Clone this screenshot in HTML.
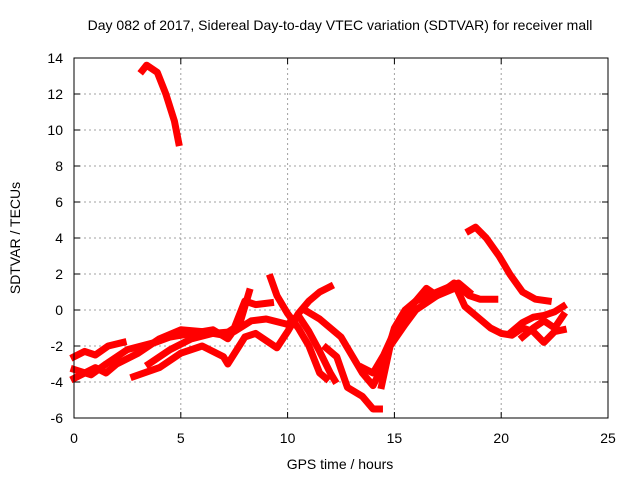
<!DOCTYPE html>
<html><head><meta charset="utf-8"><style>
body{margin:0;background:#fff}
svg text{font-family:"Liberation Sans",sans-serif;font-size:14px;fill:#000}
</style></head><body>
<svg id="c" width="640" height="480">
<text x="340" y="30" text-anchor="middle">Day 082 of 2017, Sidereal Day-to-day VTEC variation (SDTVAR) for receiver mall</text>
<text x="340" y="469" text-anchor="middle">GPS time / hours</text>
<text transform="translate(20,238) rotate(-90)" text-anchor="middle">SDTVAR / TECUs</text>
<g id="grid"></g><g id="marks"></g>
<rect x="74" y="58" width="534" height="360" fill="none" stroke="#000" stroke-width="1"/>
</svg>
<script>
const xTicks=[0,5,10,15,20,25];
const yTicks=[-6,-4,-2,0,2,4,6,8,10,12,14];
const t1=[3.2,3.4,3.9,4.3,4.7,4.9], v1=[13.3,13.6,13.2,12,10.5,9.3];
const t2=[18.5,18.8,19.3,19.9,20.4,21.0,21.6,22.2], v2=[4.4,4.6,4.0,3.0,2.0,1.0,0.6,0.5];
const t3=[0,0.5,1.0,1.6,2.3], v3=[-2.6,-2.3,-2.5,-2.0,-1.8];
const t4=[0,1,1.5,2,3,4,5,6,7,7.5,8,8.5,9.2], v4=[-3.8,-3.2,-3.5,-3.0,-2.4,-1.6,-1.1,-1.2,-1.4,-1.0,0.5,0.3,0.4];
const t5=[0,0.8,1.5,2.5,3.8,4.5,5.5,6.5,7.2,7.8,8.2], v5=[-3.3,-3.6,-3.0,-2.2,-1.8,-1.5,-1.3,-1.1,-1.6,-0.6,1.0];
const t6=[2.8,4,5,6,7,7.2,8,8.5,9.5,10,10.5,11,11.5,12], v6=[-3.7,-3.2,-2.4,-2.0,-2.6,-3.0,-1.5,-1.3,-2.1,-1.2,-0.2,0.5,1.0,1.3];
const t7=[3.5,4.5,5.5,6.5,7.5,8.3,9,10,10.5], v7=[-3.0,-2.2,-1.6,-1.3,-1.2,-0.6,-0.5,-0.8,-0.4];
const t8=[9.2,9.5,10,10.5,11,11.5,11.8], v8=[1.8,0.8,-0.2,-1.0,-2.0,-3.5,-3.8];
const t9=[10,10.5,11,11.5,12,12.2], v9=[-0.8,-0.3,-1.2,-2.3,-3.5,-3.9];
const t10=[10.8,11.5,12.5,13,13.5,14,14.5,15,15.5,16,17,18,18.5], v10=[0,-0.5,-1.5,-2.5,-3.5,-4.2,-3.0,-1.0,0,0.5,1.0,1.5,1.0];
const t11=[11.8,12.3,12.8,13.5,14,14.3], v11=[-2.1,-2.6,-4.3,-4.8,-5.5,-5.5];
const t12=[13.5,14,14.5,15,15.5,16,16.5,17,18,18.5,19,19.7], v12=[-3.2,-3.5,-2.5,-1.2,-0.2,0.5,1.2,0.8,1.3,0.8,0.6,0.6];
const t13=[14.4,14.8,15.5,16,17,17.8,18.3,19,19.5,20,20.5,21,21.5,22,22.5,22.9], v13=[-4.2,-2,-0.8,0,0.8,1.5,0.2,-0.5,-1.0,-1.3,-1.4,-1.0,-1.2,-1.8,-1.2,-1.1];
const t14=[20.5,21,21.5,22,22.5,22.9], v14=[-1.2,-0.7,-0.4,-0.3,-0.1,0.2];
const t15=[21,21.5,22,22.5,22.9], v15=[-1.5,-1.0,-0.6,-1.0,-0.3];
const series=[[t1,v1],[t2,v2],[t3,v3],[t4,v4],[t5,v5],[t6,v6],[t7,v7],[t8,v8],[t9,v9],[t10,v10],[t11,v11],[t12,v12],[t13,v13],[t14,v14],[t15,v15]];
const NS="http://www.w3.org/2000/svg";
function xs(h){return 74+h*534/25;}
function ys(v){return 418-(v+6)*18;}
const grid=document.getElementById('grid'),marks=document.getElementById('marks');
function mk(t,a,p){const e=document.createElementNS(NS,t);for(const k in a)e.setAttribute(k,a[k]);p.appendChild(e);return e;}
xTicks.forEach(t=>{
 const x=xs(t);
 if(t>0&&t<25){const l=mk('line',{x1:x,y1:58,x2:x,y2:418,stroke:'#a0a0a0','stroke-dasharray':'2,3'},grid);
 
 }
 mk('line',{x1:x,y1:418,x2:x,y2:412,stroke:'#000'},grid);
 mk('line',{x1:x,y1:58,x2:x,y2:64,stroke:'#000'},grid);
 const tx=mk('text',{x:x,y:443,'text-anchor':'middle'},grid);tx.textContent=t;
 
 
});
yTicks.forEach(t=>{
 const y=ys(t);
 if(t>-6&&t<14){const l=mk('line',{x1:74,y1:y,x2:608,y2:y,stroke:'#a0a0a0','stroke-dasharray':'2,3'},grid);
 
 }
 mk('line',{x1:74,y1:y,x2:80,y2:y,stroke:'#000'},grid);
 mk('line',{x1:608,y1:y,x2:602,y2:y,stroke:'#000'},grid);
 const tx=mk('text',{x:63,y:y+5,'text-anchor':'end'},grid);tx.textContent=t;
 
 
});
series.forEach((s,i)=>{
 const pts=s[0].map((h,j)=>xs(h)+','+ys(s[1][j])).join(' ');
 const p=mk('polyline',{points:pts,fill:'none',stroke:'#ff0000','stroke-width':7,'stroke-linejoin':'round','stroke-linecap':'square'},marks);
 
 
});
</script>
</body></html>
